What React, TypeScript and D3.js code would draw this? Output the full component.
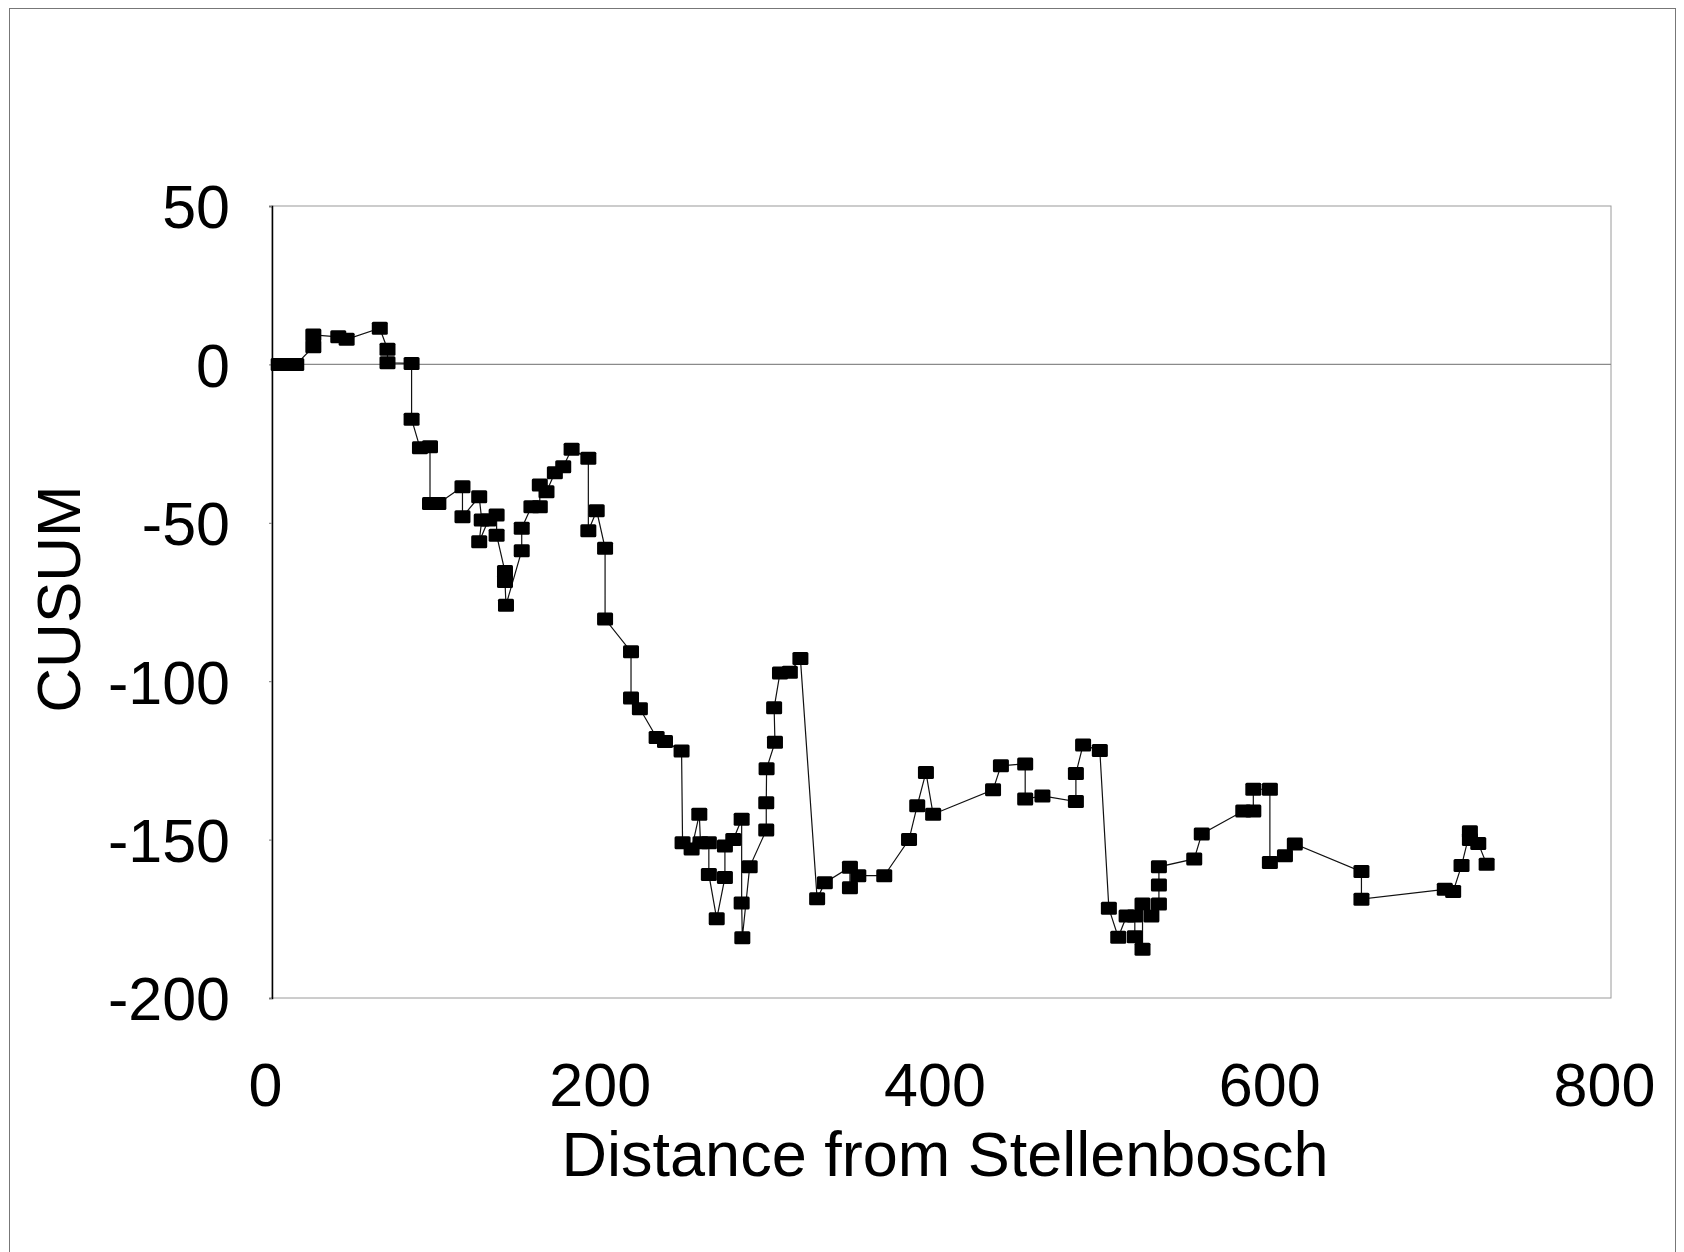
import React, { useEffect, useRef } from 'react';
import * as d3 from 'd3';

// distance from Stellenbosch (km) and the CUSUM value at each station
const distance = [
    4, 9.5, 14.5, 24.7, 24.7, 39.6, 44.6, 64.4, 69, 69,
    83.4, 83.4, 88.4, 94.4, 94.4, 99.4, 113.8, 113.8, 123.8, 125.3,
    123.8, 129.3, 134.2, 134.2, 139.2, 139.2, 139.8, 149.2, 149.2, 155,
    160, 160, 164, 169, 174, 179, 189, 189, 194, 199,
    199, 214.5, 214.5, 219.8, 229.8, 234.8, 244.7, 245.3, 250.7, 255.3,
    256, 261, 261, 265.7, 270.6, 270.6, 275.6, 280.6, 280.6, 281,
    285.4, 295.3, 295.3, 295.5, 300.5, 300, 303.5, 309.4, 315.7, 325.7,
    330.3, 345.3, 345.3, 350.3, 365.8, 380.6, 385.5, 390.7, 395, 430.8,
    435.5, 450, 450, 460.3, 480.3, 480.3, 484.6, 494.6, 500, 505.6,
    510.6, 515.5, 515.5, 520.1, 520.1, 525.4, 529.9, 529.9, 529.9, 551,
    555.5, 580.3, 586.3, 586.3, 596.2, 596.2, 605.2, 611.1, 650.9, 650.9,
    700.7, 705.7, 710.7, 715.7, 715.7, 720.7, 725.7,
];
const cusum = [
    0, 0, 0, 5.6, 9.3, 8.7, 7.9, 11.4, 4.8, 0.5,
    0.3, -17.3, -26.3, -26, -43.9, -43.9, -38.6, -48.1, -41.8, -49.1,
    -56, -49.1, -47.5, -53.9, -65.4, -68.5, -76, -58.8, -51.7, -44.9,
    -44.9, -38.1, -40.2, -34.2, -32.3, -26.8, -29.6, -52.5, -46.2, -58,
    -80.4, -90.7, -105.3, -108.7, -117.8, -119, -122, -151, -153, -142,
    -151, -151, -161, -175, -162, -152, -150, -143.6, -170, -181,
    -158.6, -147, -138.4, -127.6, -119.3, -108.4, -97.4, -97.2, -92.8, -168.7,
    -163.6, -158.7, -165.2, -161.4, -161.4, -150, -139.3, -128.8, -142, -134.3,
    -126.7, -126.1, -137.2, -136.2, -138, -129.1, -120.1, -121.9, -171.7, -180.8,
    -174.1, -174.1, -180.7, -184.6, -170.3, -174.1, -170.3, -164.3, -158.6, -156.1,
    -148.2, -141, -141, -134.1, -134.1, -157.2, -155.1, -151.4, -160.1, -168.8,
    -165.7, -166.4, -158.2, -147.5, -150, -151.2, -157.8,
];
const xTicks = [0, 200, 400, 600, 800];
const yTicks = [50, 0, -50, -100, -150, -200];
const xTitle = 'Distance from Stellenbosch';
const yTitle = 'CUSUM';

type Datum = { x: number; y: number };

function drawChart(svgRoot: SVGSVGElement) {
    const svg = d3.select(svgRoot);
    svg.selectChildren().remove();

    const width = 1684;
    const height = 1252;
    const plot = { left: 272, right: 1611, top: 206, bottom: 998 };
    const font = '"Liberation Sans", Arial, sans-serif';
    const fs = 61;

    const data: Datum[] = distance.map((d, i) => ({ x: d, y: cusum[i] }));

    const xScale = d3.scaleLinear().domain([0, 800]).range([plot.left, plot.right]);
    const yScale = d3.scaleLinear().domain([-200, 50]).range([plot.bottom, plot.top]);

    svg.attr('width', width).attr('height', height).attr('viewBox', `0 0 ${width} ${height}`);

    svg.append('rect')
        .attr('width', width).attr('height', height)
        .attr('fill', '#fff');

    // outer chart frame (runs off the bottom of the scan)
    svg.append('rect')
        .attr('x', 9.5).attr('y', 8.5)
        .attr('width', 1666).attr('height', 1260)
        .attr('fill', 'none')
        .attr('stroke', '#777')
        .attr('stroke-width', 1);

    const g = svg.append('g');

    // plot area frame
    g.append('rect')
        .attr('x', plot.left).attr('y', plot.top)
        .attr('width', plot.right - plot.left).attr('height', plot.bottom - plot.top)
        .attr('fill', 'none')
        .attr('stroke', '#9a9a9a')
        .attr('stroke-width', 1);

    // zero line
    g.append('line')
        .attr('x1', plot.left).attr('x2', plot.right)
        .attr('y1', yScale(0)).attr('y2', yScale(0))
        .attr('stroke', '#8a8a8a')
        .attr('stroke-width', 1.2);

    // y axis
    const yAxis = g.append('g')
        .attr('transform', `translate(${plot.left},0)`)
        .call(d3.axisLeft(yScale).tickValues(yTicks).tickSize(3).tickFormat(d3.format('d')));
    yAxis.select('.domain').attr('stroke', '#000').attr('stroke-width', 1.5);
    yAxis.selectAll('.tick line').attr('stroke', '#777');
    yAxis.selectAll('.tick text')
        .attr('x', -42)
        .attr('dy', '0.36em')
        .attr('fill', '#000')
        .style('font-family', font)
        .style('font-size', `${fs}px`)
        .text((d: any) => (d < 0 ? '-' : '') + Math.abs(d));

    // x axis labels sit below the plot
    const xAxis = g.append('g')
        .attr('transform', `translate(0,${plot.bottom})`)
        .call(d3.axisBottom(xScale).tickValues(xTicks).tickSize(0).tickFormat(d3.format('d')));
    xAxis.select('.domain').remove();
    xAxis.selectAll('.tick text')
        .attr('y', 108)
        .attr('dy', 0)
        .attr('dx', -7)
        .attr('fill', '#000')
        .style('font-family', font)
        .style('font-size', `${fs}px`);

    // axis titles
    svg.append('text')
        .attr('x', 945).attr('y', 1176)
        .attr('text-anchor', 'middle')
        .style('font-family', font)
        .style('font-size', '63px')
        .text(xTitle);

    svg.append('text')
        .attr('transform', `translate(80,${(plot.top + plot.bottom) / 2 - 3}) rotate(-90)`)
        .attr('text-anchor', 'middle')
        .style('font-family', font)
        .style('font-size', '62px')
        .text(yTitle);

    // the series
    const lineGen = d3.line<Datum>()
        .x((d) => xScale(d.x))
        .y((d) => yScale(d.y));

    g.append('path')
        .datum(data)
        .attr('fill', 'none')
        .attr('stroke', '#111')
        .attr('stroke-width', 1.2)
        .attr('d', lineGen);

    const mw = 16;
    const mh = 13;
    g.selectAll<SVGRectElement, Datum>('.dot')
        .data(data)
        .enter().append('rect')
        .attr('class', 'dot')
        .attr('x', (d) => xScale(d.x) - mw / 2)
        .attr('y', (d) => yScale(d.y) - mh / 2)
        .attr('width', mw)
        .attr('height', mh)
        .attr('rx', 1.5)
        .attr('fill', '#000');
}

export default function App() {
    const svgRef = useRef<SVGSVGElement>(null);

    useEffect(() => {
        svgRef.current && drawChart(svgRef.current);
    }, []);

    return (
        <svg ref={svgRef} style={{ position: 'absolute', left: 0, top: 0, display: 'block' }} />
    );
}
